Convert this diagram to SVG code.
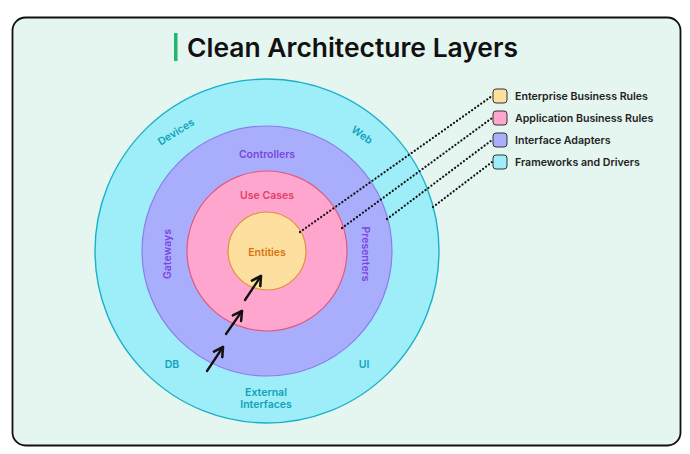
<svg xmlns="http://www.w3.org/2000/svg" width="690" height="454" viewBox="0 0 690 454">
<defs>
<style>
.lbl{font-family:Inter,"Noto Sans",sans-serif;font-size:10.5px;font-weight:600;text-anchor:middle;dominant-baseline:central}
.leg{font-family:Inter,"Noto Sans",sans-serif;font-size:10.6px;font-weight:600;fill:#222;dominant-baseline:central}
.dot{stroke:#111;stroke-width:2.2;stroke-dasharray:0.1 3.6;stroke-linecap:round;fill:none}
.arr{stroke:#111;stroke-width:2.3;fill:none;stroke-linecap:round;stroke-linejoin:round}
.box{stroke:#333;stroke-width:1}
</style>
<marker id="ah" viewBox="0 0 10 10" refX="8" refY="5" markerWidth="5.5" markerHeight="5.5" orient="auto" markerUnits="strokeWidth">
<path d="M1,1 L8,5 L1,9" fill="none" stroke="#111" stroke-width="2" stroke-linecap="round" stroke-linejoin="round"/>
</marker>
</defs>
<rect x="0" y="0" width="690" height="454" fill="#ffffff"/>
<rect x="12.5" y="17.5" width="668" height="428" rx="13" fill="#e5f5f0" stroke="#111" stroke-width="1.8"/>
<g id="title">
<rect x="174" y="33" width="3.5" height="28" fill="#22b573"/>
<text x="187" y="57" font-family="Inter,'Noto Sans',sans-serif" font-size="26" font-weight="600" fill="#111" textLength="331" lengthAdjust="spacingAndGlyphs">Clean Architecture Layers</text>
</g>
<g id="frameworks">
<circle cx="267" cy="251" r="172" fill="#9eeefa" stroke="#1ab0c8" stroke-width="1.4"/>
<text class="lbl" fill="#0fa3b8" transform="translate(176,132) rotate(-32)">Devices</text>
<text class="lbl" fill="#0fa3b8" transform="translate(362,135) rotate(35)">Web</text>
<text class="lbl" fill="#0fa3b8" x="172" y="364">DB</text>
<text class="lbl" fill="#0fa3b8" x="364" y="364">UI</text>
<text class="lbl" fill="#0fa3b8" x="266" y="392">External</text>
<text class="lbl" fill="#0fa3b8" x="266" y="404">Interfaces</text>
</g>
<g id="adapters">
<circle cx="267" cy="251" r="125" fill="#a9aefc" stroke="#8d7de8" stroke-width="1.2"/>
<text class="lbl" fill="#7d45e0" x="267" y="154">Controllers</text>
<text class="lbl" fill="#7d45e0" transform="translate(167,254) rotate(-90)">Gateways</text>
<text class="lbl" fill="#7d45e0" transform="translate(365,254) rotate(90)">Presenters</text>
</g>
<g id="usecases">
<circle cx="267" cy="251" r="80" fill="#ffa6cf" stroke="#e0587e" stroke-width="1.2"/>
<text class="lbl" fill="#e23e66" x="267" y="195">Use Cases</text>
</g>
<g id="entities">
<circle cx="267" cy="251" r="39" fill="#fde0a0" stroke="#e0913e" stroke-width="1.2"/>
<text class="lbl" fill="#d8720e" x="267" y="252">Entities</text>
</g>
<g id="connectors">
<line class="dot" x1="300" y1="232" x2="492" y2="96"/>
<line class="dot" x1="342" y1="228" x2="492" y2="118"/>
<line class="dot" x1="387" y1="219" x2="492" y2="140"/>
<line class="dot" x1="433" y1="207" x2="492" y2="162"/>
<line class="arr" x1="207" y1="371" x2="223" y2="347" marker-end="url(#ah)"/>
<line class="arr" x1="226" y1="334" x2="242" y2="311" marker-end="url(#ah)"/>
<line class="arr" x1="245" y1="300" x2="261" y2="276" marker-end="url(#ah)"/>
</g>
<g id="legend">
<rect class="box" x="493" y="89" width="14" height="14" rx="3" fill="#fde0a0"/>
<text class="leg" x="515" y="96">Enterprise Business Rules</text>
<rect class="box" x="493" y="111" width="14" height="14" rx="3" fill="#ffa6cf"/>
<text class="leg" x="515" y="118">Application Business Rules</text>
<rect class="box" x="493" y="133" width="14" height="14" rx="3" fill="#a9aefc"/>
<text class="leg" x="515" y="140">Interface Adapters</text>
<rect class="box" x="493" y="155" width="14" height="14" rx="3" fill="#9eeefa"/>
<text class="leg" x="515" y="162">Frameworks and Drivers</text>
</g>
</svg>
